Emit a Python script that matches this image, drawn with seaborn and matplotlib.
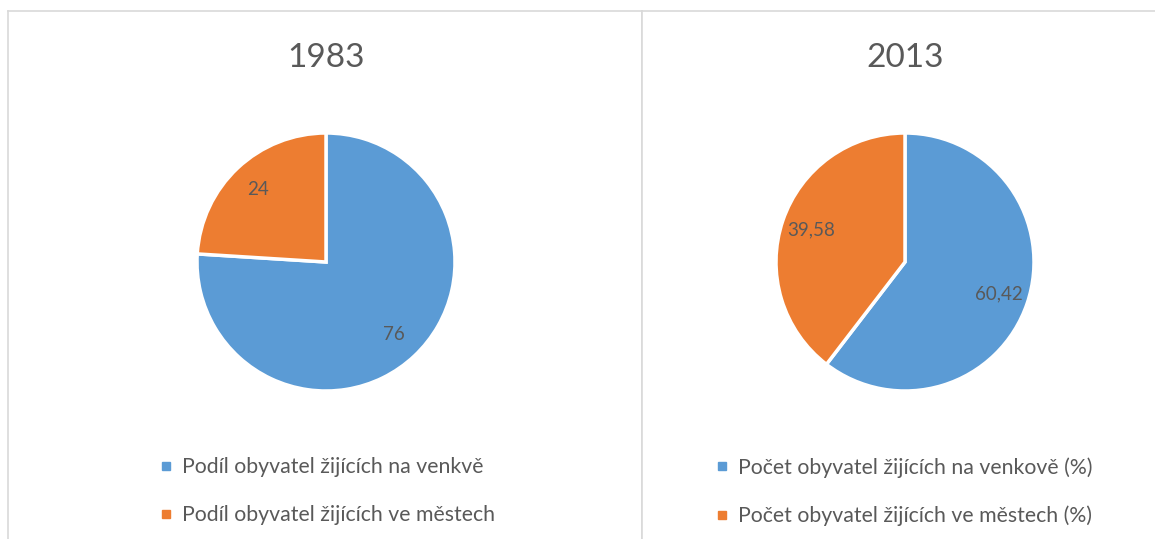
import matplotlib.pyplot as plt
import seaborn as sns
from matplotlib.lines import Line2D

# Data
years = ['1983', '2013']
labels_1983 = ['Podíl obyvatel žijících na venkvě', 'Podíl obyvatel žijících ve městech']
labels_2013 = ['Počet obyvatel žijících na venkově (%)', 'Počet obyvatel žijících ve městech (%)']
values_1983 = [76, 24]
values_2013 = [60.42, 39.58]

sns.set_theme(style='white')
plt.rcParams['font.family'] = ['Lato', 'DejaVu Sans']
colors = sns.color_palette(['#5B9BD5', '#ED7D31'])
text_color = '#595959'
W, H = 1155, 539

fig = plt.figure(figsize=(W / 100, H / 100), dpi=100)


def fmt(v):
    return f'{v:g}'.replace('.', ',')


def draw_panel(px0, px1, cx, title, values, labels, legend_x):
    # panel frame
    frame = fig.add_axes([px0 / W, 0, (px1 - px0) / W, (H - 11) / H])
    frame.set_xticks([])
    frame.set_yticks([])
    for side in ['top', 'left', 'right']:
        frame.spines[side].set_color('#D9D9D9')
        frame.spines[side].set_linewidth(1.2)
    frame.spines['bottom'].set_visible(False)
    if px1 > W:
        frame.spines['right'].set_visible(False)

    fig.text(cx / W, 1 - 58 / H, title, ha='center', va='center',
             fontsize=24, color=text_color)

    r = 129
    cy = H - 262
    ax = fig.add_axes([(cx - r) / W, (cy - r) / H, 2 * r / W, 2 * r / H])
    total = sum(values)
    wedges, texts, autotexts = ax.pie(
        values, colors=colors, startangle=90, counterclock=False,
        autopct=lambda p: fmt(round(p * total / 100, 2)), pctdistance=0.77,
        wedgeprops=dict(edgecolor='white', linewidth=2.5))
    for t in autotexts:
        t.set_color(text_color)
        t.set_fontsize(13.5)
    ax.set_xlim(-1, 1)
    ax.set_ylim(-1, 1)

    handles = [Line2D([], [], marker='s', linestyle='', markersize=5.5,
                      markerfacecolor=c, markeredgecolor=c) for c in colors]
    leg = fig.legend(handles, labels, loc='upper left',
                     bbox_to_anchor=(legend_x / W, 1 - 457 / H),
                     frameon=False, fontsize=15.3, labelspacing=1.33,
                     handlelength=0.6, handletextpad=0.45, borderpad=0,
                     borderaxespad=0)
    for t in leg.get_texts():
        t.set_color(text_color)


draw_panel(8, 642, 326, years[0], values_1983, labels_1983, 160)
draw_panel(642, 1170, 905, years[1], values_2013, labels_2013, 716)

fig.savefig('out.png', dpi=100, facecolor='white')
